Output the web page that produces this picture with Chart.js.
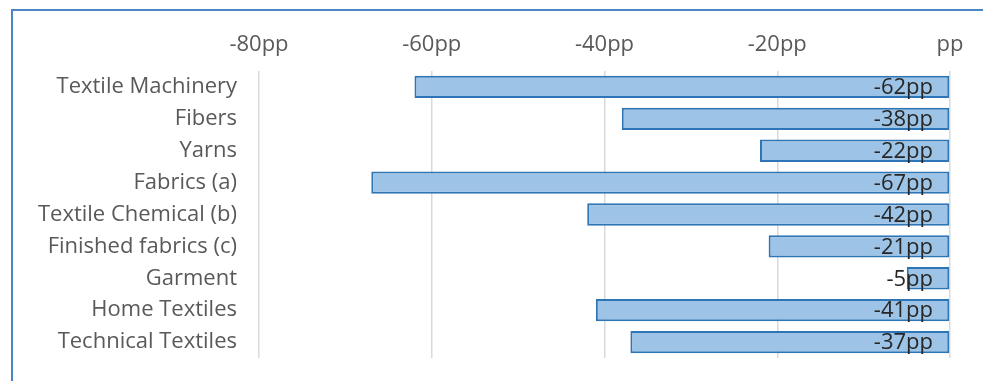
<!DOCTYPE html>
<html>
<head>
<meta charset="utf-8">
<script src="https://cdn.jsdelivr.net/npm/chart.js@4/dist/chart.umd.min.js"></script>
<style>
  html, body { margin: 0; padding: 0; background: #fff; }
  #wrap { position: relative; width: 983px; height: 381px; }
  #frame { position: absolute; left: 11px; top: 9px; right: -10px; bottom: -10px;
           border-left: 2px solid #4a86c4; border-top: 2px solid #4a86c4; pointer-events: none; }
  canvas { position: absolute; left: 0; top: 0; }
</style>
</head>
<body>
<div id="wrap">
  <canvas id="c" width="983" height="381"></canvas>
  <div id="frame"></div>
</div>
<script>
const categories = [
  'Textile Machinery', 'Fibers', 'Yarns', 'Fabrics (a)', 'Textile Chemical (b)',
  'Finished fabrics (c)', 'Garment', 'Home Textiles', 'Technical Textiles'
];
const changes = [-62, -38, -22, -67, -42, -21, -5, -41, -37];
const tickValues = [-80, -60, -40, -20, 0];

const FONT = "'Open Sans', 'Noto Sans', sans-serif";

// value labels drawn just inside the zero line
const valueLabels = {
  id: 'valueLabels',
  afterDatasetsDraw(chart) {
    const ctx = chart.ctx;
    const x0 = chart.scales.x.getPixelForValue(0);
    const meta = chart.getDatasetMeta(0);
    ctx.save();
    ctx.font = '22px ' + FONT;
    ctx.fillStyle = '#262626';
    ctx.textAlign = 'right';
    ctx.textBaseline = 'middle';
    meta.data.forEach((bar, i) => {
      ctx.fillText(changes[i] + 'pp', x0 - 17, bar.y + 1);
    });
    ctx.restore();
  }
};

new Chart(document.getElementById('c'), {
  type: 'bar',
  data: {
    labels: categories,
    datasets: [{
      data: changes,
      backgroundColor: '#9dc3e6',
      borderColor: '#2e75b6',
      borderWidth: 2,
      borderSkipped: false,
      categoryPercentage: 1,
      barPercentage: 0.7
    }]
  },
  options: {
    indexAxis: 'y',
    responsive: false,
    animation: false,
    layout: { padding: { left: 0, right: 33, top: 0, bottom: 23 } },
    plugins: { legend: { display: false }, tooltip: { enabled: false } },
    scales: {
      x: {
        position: 'top',
        min: -80,
        max: 0,
        afterBuildTicks(scale) { scale.ticks = tickValues.map(v => ({ value: v })); },
        afterFit(scale) { scale.height = 71; },
        ticks: {
          padding: 13,
          color: '#595959',
          font: { family: FONT, size: 22 },
          callback: v => (v === 0 ? '' : v) + 'pp'
        },
        grid: { color: '#d9d9d9', lineWidth: 1.5, drawTicks: false },
        border: { display: false }
      },
      y: {
        afterFit(scale) {
          scale.width = 259;
          scale.paddingTop = 0;
          scale.paddingBottom = 0;
        },
        ticks: {
          padding: 22,
          color: '#595959',
          font: { family: FONT, size: 22 }
        },
        grid: { display: false, drawTicks: false },
        border: { display: false }
      }
    }
  },
  plugins: [valueLabels]
});
</script>
</body>
</html>
